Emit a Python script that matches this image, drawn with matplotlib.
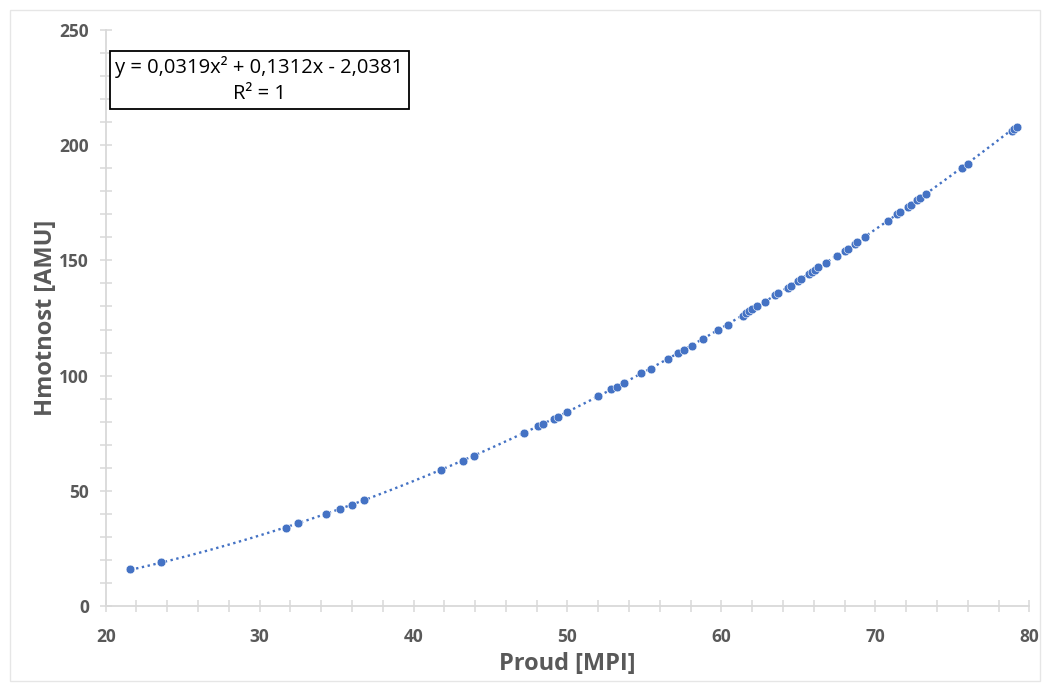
import numpy as np
import matplotlib.pyplot as plt
from matplotlib.patches import Rectangle
from matplotlib.ticker import MultipleLocator

# measured points: current vs. mass
proud = [21.6, 23.6, 31.7, 32.5, 34.3, 35.2, 36.0, 36.8,
         41.8, 43.2, 43.9, 47.2, 48.1, 48.4, 49.1, 49.4, 50.0,
         52.0, 52.8, 53.2, 53.7, 54.8, 55.4, 56.5, 57.2, 57.6, 58.1,
         58.8, 59.8, 60.4, 61.4, 61.6, 61.8, 62.0, 62.3, 62.8,
         63.5, 63.7, 64.3, 64.5, 65.0, 65.2, 65.7, 65.9, 66.1, 66.3,
         66.8, 67.5, 68.0, 68.2, 68.7, 68.8, 69.3, 70.8, 71.4, 71.6,
         72.1, 72.3, 72.7, 72.9, 73.3, 75.6, 76.0, 78.9, 79.0, 79.2]
hmotnost = [16, 19, 34, 36, 40, 42, 44, 46,
            59, 63, 65, 75, 78, 79, 81, 82, 84,
            91, 94, 95, 97, 101, 103, 107, 110, 111, 113,
            116, 120, 122, 126, 127, 128, 129, 130, 132,
            135, 136, 138, 139, 141, 142, 144, 145, 146, 147,
            149, 152, 154, 155, 157, 158, 160, 167, 170, 171,
            173, 174, 176, 177, 179, 190, 192, 206, 207, 208]

# polynomial trendline coefficients (a*x^2 + b*x + c)
trend = [0.0319, 0.1312, -2.0381]

blue = '#4472C4'
grey = '#595959'
light = '#D9D9D9'

fig = plt.figure(figsize=(10.43, 6.84), dpi=100)
ax = fig.add_axes([105.7 / 1043, 78 / 684, 923.6 / 1043, 576 / 684])

xs = np.linspace(min(proud), max(proud), 400)
ax.plot(xs, np.polyval(trend, xs), color=blue, lw=1.7, ls=(0, (1, 1.5)), zorder=2)
ax.plot(proud, hmotnost, 'o', color=blue, ms=6.3, mec='white', mew=0.4, zorder=3)

ax.set_xlim(20, 80)
ax.set_ylim(0, 250)
ax.xaxis.set_major_locator(MultipleLocator(10))
ax.xaxis.set_minor_locator(MultipleLocator(2))
ax.yaxis.set_major_locator(MultipleLocator(50))
ax.yaxis.set_minor_locator(MultipleLocator(10))

for s in ['top', 'right']:
    ax.spines[s].set_visible(False)
for s in ['left', 'bottom']:
    ax.spines[s].set_color(light)
    ax.spines[s].set_linewidth(1.3)

ax.tick_params(which='both', direction='inout', color=light, width=1.1, length=8)
ax.tick_params(axis='x', pad=12, labelsize=12.5, labelcolor=grey)
ax.tick_params(axis='y', pad=8, labelsize=12.5, labelcolor=grey)
for lab in ax.get_xticklabels() + ax.get_yticklabels():
    lab.set_fontweight('bold')
    lab.set_family('Open Sans')

ax.set_xlabel('Proud [MPI]', fontsize=17, fontweight='bold', color=grey,
              family='Open Sans', labelpad=4)
ax.set_ylabel('Hmotnost [AMU]', fontsize=17, fontweight='bold', color=grey,
              family='Open Sans', labelpad=1)

ax.text(0.1665, 0.913,
        'y = 0,0319x² + 0,1312x - 2,0381\nR² = 1',
        transform=ax.transAxes, ha='center', va='center', fontsize=14.5,
        family='Open Sans', linespacing=1.35, color='black',
        bbox=dict(boxstyle='square,pad=0.25', fc='white', ec='black', lw=1.3))

# outer chart frame
fig.patches.append(Rectangle((10 / 1043, 3 / 684), 1030 / 1043, 671 / 684,
                             transform=fig.transFigure, fill=False,
                             ec='#E6E6E6', lw=1.0))

fig.savefig('out.png', dpi=100)
